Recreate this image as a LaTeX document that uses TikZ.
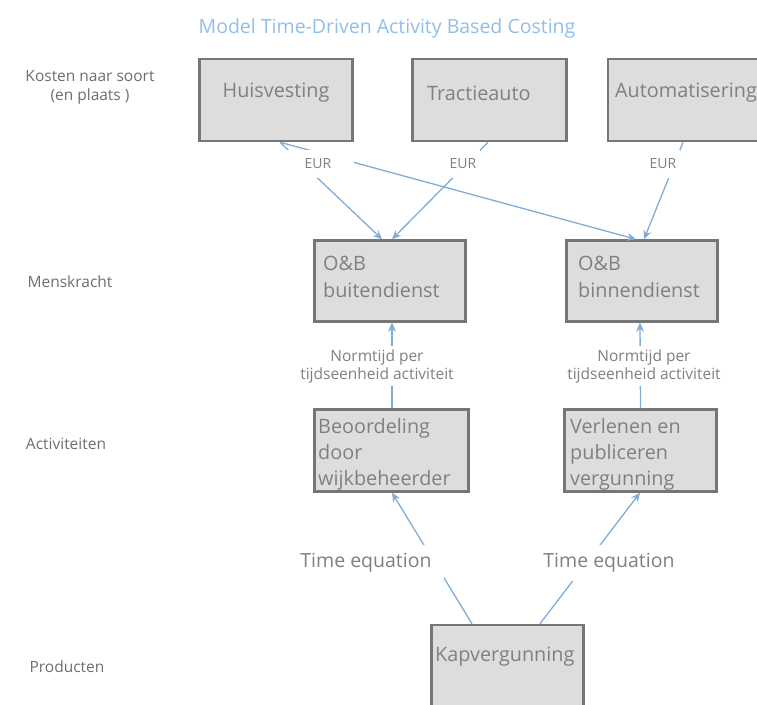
\documentclass[tikz,border=0pt]{standalone}
\usepackage{fontspec}
\setmainfont{Open Sans}
\usetikzlibrary{arrows.meta}
\definecolor{boxfill}{RGB}{221,221,221}
\definecolor{boxline}{RGB}{118,118,118}
\definecolor{txt}{RGB}{128,128,128}
\definecolor{sidetxt}{RGB}{110,110,110}
\definecolor{arr}{RGB}{128,172,216}
\definecolor{ttl}{RGB}{145,190,232}
\begin{document}
\begin{tikzpicture}[x=1pt,y=-1pt,
 box/.style={draw=boxline, line width=2.5pt, fill=boxfill, inner sep=0pt},
 btext/.style={text=txt, font=\fontsize{19.8}{27}\selectfont, inner sep=0pt, align=left},
 side/.style={text=sidetxt, font=\fontsize{15.5}{19}\selectfont, inner sep=0pt, align=center},
 conn/.style={draw=arr, line width=1.3pt, -{Stealth[length=9pt,width=8pt]}},
 lbl/.style={fill=white, text=txt, font=\fontsize{14}{17}\selectfont, inner xsep=4pt, inner ysep=8.5pt, align=center},
 norm/.style={fill=white, text=txt, font=\fontsize{15.5}{18}\selectfont, inner xsep=2pt, inner ysep=3.5pt, align=center},
 teq/.style={fill=white, text=txt, font=\fontsize{19.5}{22}\selectfont, inner xsep=12pt, inner ysep=8.5pt}]
\useasboundingbox (0,0) rectangle (757,704);
\clip (0,0) rectangle (757,704);

% title
\node[text=ttl, font=\fontsize{19.5}{22}\selectfont, inner sep=0pt] (title) at (387,28) {Model Time-Driven Activity Based Costing};

% side labels
\node[side] (s1) at (90,87) {Kosten naar soort\\(en plaats )};
\node[side] (s2) at (70,282) {Menskracht};
\node[side] (s3) at (66,444) {Activiteiten};
\node[side] (s4) at (67,667) {Producten};

% boxes
\node[box, minimum width=153, minimum height=82] (hu) at (276,100) {};
\node[box, minimum width=154, minimum height=82] (tr) at (489.5,100) {};
\node[box, minimum width=164, minimum height=82] (au) at (690,100) {};
\node[box, minimum width=151, minimum height=81] (ob) at (390,281) {};
\node[box, minimum width=151, minimum height=81] (bi) at (642,281) {};
\node[box, minimum width=154, minimum height=82] (be) at (391.5,450.5) {};
\node[box, minimum width=152, minimum height=82] (ve) at (640.5,450.5) {};
\node[box, minimum width=152, minimum height=90] (ka) at (507.5,670) {};

% box texts
\node[btext] (hu-t) at (276,93) {Huisvesting};
\node[btext, anchor=west] (tr-t) at (427,93) {Tractieauto};
\node[btext, anchor=west] (au-t) at (615,93) {Automatisering};
\node[btext, anchor=west] (ob-t) at (323,276.5) {O\&B\\buitendienst};
\node[btext, anchor=west] (bi-t) at (578,276.5) {O\&B\\binnendienst};
\node[btext, anchor=west, font=\fontsize{19.8}{26}\selectfont] (be-t) at (318,454) {Beoordeling\\door\\wijkbeheerder};
\node[btext, anchor=west, font=\fontsize{19.8}{26}\selectfont] (ve-t) at (570,454) {Verlenen en\\publiceren\\vergunning};
\node[btext, anchor=west] (ka-t) at (435,657) {Kapvergunning};

% connectors
\draw[conn] ([xshift=4]hu.south) -- ([xshift=-8]ob.north);
\draw[conn] ([xshift=4]hu.south) -- ([xshift=-6]bi.north);
\draw[conn] ([xshift=-1.5]tr.south) -- ([xshift=2]ob.north);
\draw[conn] ([xshift=-7]au.south) -- ([xshift=2]bi.north);
\draw[conn] ([xshift=0.5]be.north) -- ([xshift=2]ob.south);
\draw[conn] (ve.north) -- ([xshift=-2]bi.south);
\draw[conn] ([xshift=-35.5]ka.north) -- ([xshift=0.5]be.south);
\draw[conn] ([xshift=32.5]ka.north) -- ([xshift=-0.5]ve.south);

% connector labels
\node[lbl, minimum width=72] (eur1) at (318,164) {EUR};
\node[lbl] (eur2) at (463,164) {EUR};
\node[lbl] (eur3) at (663,164) {EUR};
\node[norm] (n1) at (377,366) {Normtijd per\\tijdseenheid activiteit};
\node[norm] (n2) at (644,366) {Normtijd per\\tijdseenheid activiteit};
\node[teq] (t1) at (366,563) {Time equation};
\node[teq] (t2) at (609,563) {Time equation};
\end{tikzpicture}
\end{document}
